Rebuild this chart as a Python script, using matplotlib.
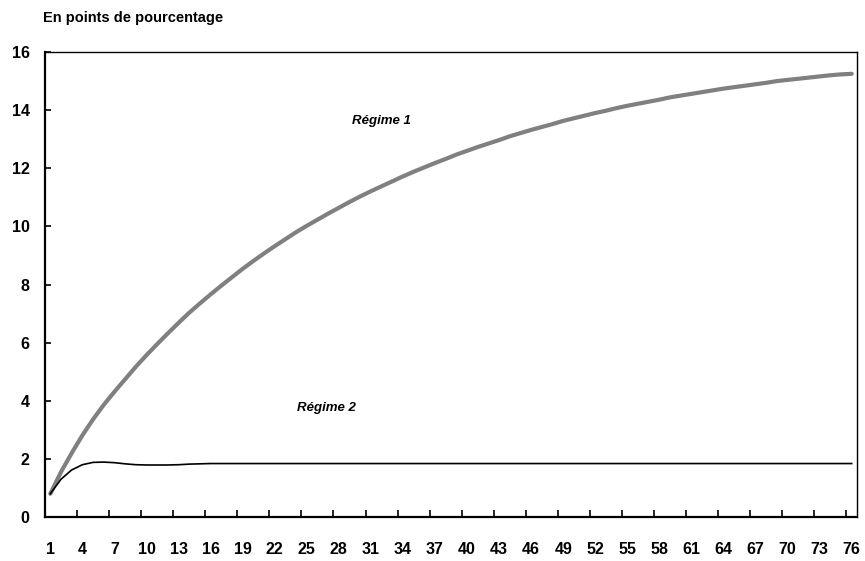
import numpy as np
import matplotlib
matplotlib.use("Agg")
import matplotlib.pyplot as plt

plt.rcParams['font.family'] = ['Liberation Sans', 'DejaVu Sans']

#-------------------------------------------------------------#
# Data (periods 1..76)
#-------------------------------------------------------------#
periods = list(range(1, 77))

regime1 = [0.80, 1.55, 2.20, 2.81, 3.36, 3.86, 4.31, 4.74, 5.17, 5.57,
           5.95, 6.32, 6.68, 7.03, 7.35, 7.66, 7.96, 8.25, 8.54, 8.81,
           9.07, 9.32, 9.56, 9.80, 10.02, 10.23, 10.44, 10.64, 10.84, 11.03,
           11.21, 11.38, 11.55, 11.72, 11.88, 12.03, 12.18, 12.32, 12.47, 12.60,
           12.73, 12.85, 12.97, 13.10, 13.21, 13.32, 13.42, 13.52, 13.63, 13.72,
           13.81, 13.90, 13.98, 14.07, 14.15, 14.22, 14.29, 14.36, 14.44, 14.50,
           14.56, 14.62, 14.68, 14.74, 14.79, 14.84, 14.89, 14.94, 15.00, 15.04,
           15.08, 15.12, 15.16, 15.20, 15.23, 15.25]

regime2 = [0.80, 1.30, 1.62, 1.80, 1.88, 1.89, 1.87, 1.83, 1.80, 1.79,
           1.79, 1.79, 1.80, 1.82, 1.83] + [1.84] * 61

xtick_labels = [str(p) for p in range(1, 77, 3)]

#-------------------------------------------------------------#
# Plotting
#-------------------------------------------------------------#
fig = plt.figure(figsize=(8.65, 5.61), dpi=100)
ax = fig.add_axes([0.052, 0.0784, 0.9388, 0.8289])

ax.plot(periods, regime1, color='#808080', linewidth=3.0, solid_capstyle='round')
ax.plot(periods, regime2, color='black', linewidth=1.2)

ax.set_xlim(0.5, 76.5)
ax.set_ylim(0, 16)

ax.set_yticks(range(0, 17, 2))
ax.set_xticks(range(1, 77, 3))
ax.set_xticklabels(xtick_labels)
ax.set_xticks(np.arange(3.5, 76, 3), minor=True)

ax.tick_params(axis='y', direction='in', length=4, width=1.2, pad=11, labelsize=11.5)
ax.tick_params(axis='x', which='major', length=0, pad=18, labelsize=11.5)
ax.tick_params(axis='x', which='minor', direction='in', length=5, width=1.2)
for lab in ax.get_xticklabels() + ax.get_yticklabels():
    lab.set_fontweight('bold')

ax.spines['left'].set_linewidth(1.6)
ax.spines['bottom'].set_linewidth(1.6)
ax.spines['top'].set_linewidth(1.0)
ax.spines['right'].set_linewidth(1.0)

ax.text(32, 13.63, 'Régime 1', fontsize=9.5, fontweight='bold', style='italic',
        ha='center', va='center')
ax.text(26.8, 3.75, 'Régime 2', fontsize=9.5, fontweight='bold', style='italic',
        ha='center', va='center')

fig.text(0.05, 0.968, 'En points de pourcentage', fontsize=10.5, fontweight='bold',
         ha='left', va='center')

fig.savefig('out.png', dpi=100)
